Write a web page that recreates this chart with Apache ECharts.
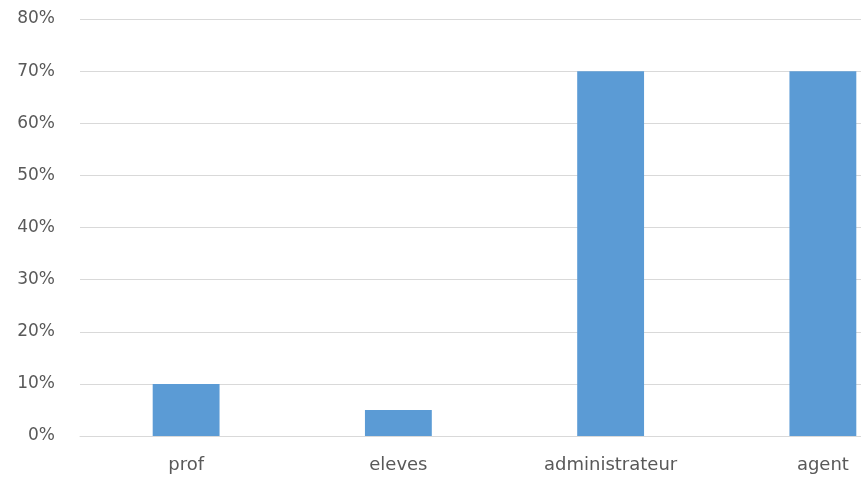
<!DOCTYPE html>
<html>
<head>
<meta charset="utf-8">
<script src="https://cdn.jsdelivr.net/npm/echarts@6/dist/echarts.min.js"></script>
<style>
  html, body { margin: 0; padding: 0; background: #ffffff; overflow: hidden; }
  #chart { width: 861px; height: 480px; }
</style>
</head>
<body>
<div id="chart"></div>
<script>
// Share of respondents per role
const categories = ['prof', 'eleves', 'administrateur', 'agent'];
const shares = [0.10, 0.05, 0.70, 0.70];
const yTicks = { min: 0, max: 0.8, interval: 0.1 };

const chart = echarts.init(document.getElementById('chart'), null, { renderer: 'canvas' });

chart.setOption({
  animation: false,
  backgroundColor: '#ffffff',
  // plot area runs past the right edge of the canvas
  grid: {
    left: 80, right: -68, top: 19, bottom: 44,
    containLabel: false,
    outerBoundsMode: 'none'
  },
  xAxis: {
    type: 'category',
    data: categories,
    axisLine: { show: true, lineStyle: { color: '#d9d9d9', width: 1 } },
    axisTick: { show: false },
    axisLabel: {
      color: '#595959',
      fontFamily: 'DejaVu Sans',
      fontSize: 18,
      margin: 20
    }
  },
  yAxis: {
    type: 'value',
    min: yTicks.min,
    max: yTicks.max,
    interval: yTicks.interval,
    axisLine: { show: false },
    axisTick: { show: false },
    splitLine: { lineStyle: { color: '#d9d9d9', width: 1 } },
    axisLabel: {
      color: '#595959',
      fontFamily: 'DejaVu Sans',
      fontSize: 17,
      margin: 25,
      formatter: v => Math.round(v * 100) + '%'
    }
  },
  series: [{
    type: 'bar',
    data: shares,
    barWidth: '31.5%',
    itemStyle: { color: '#5b9bd5' }
  }]
});
</script>
</body>
</html>
